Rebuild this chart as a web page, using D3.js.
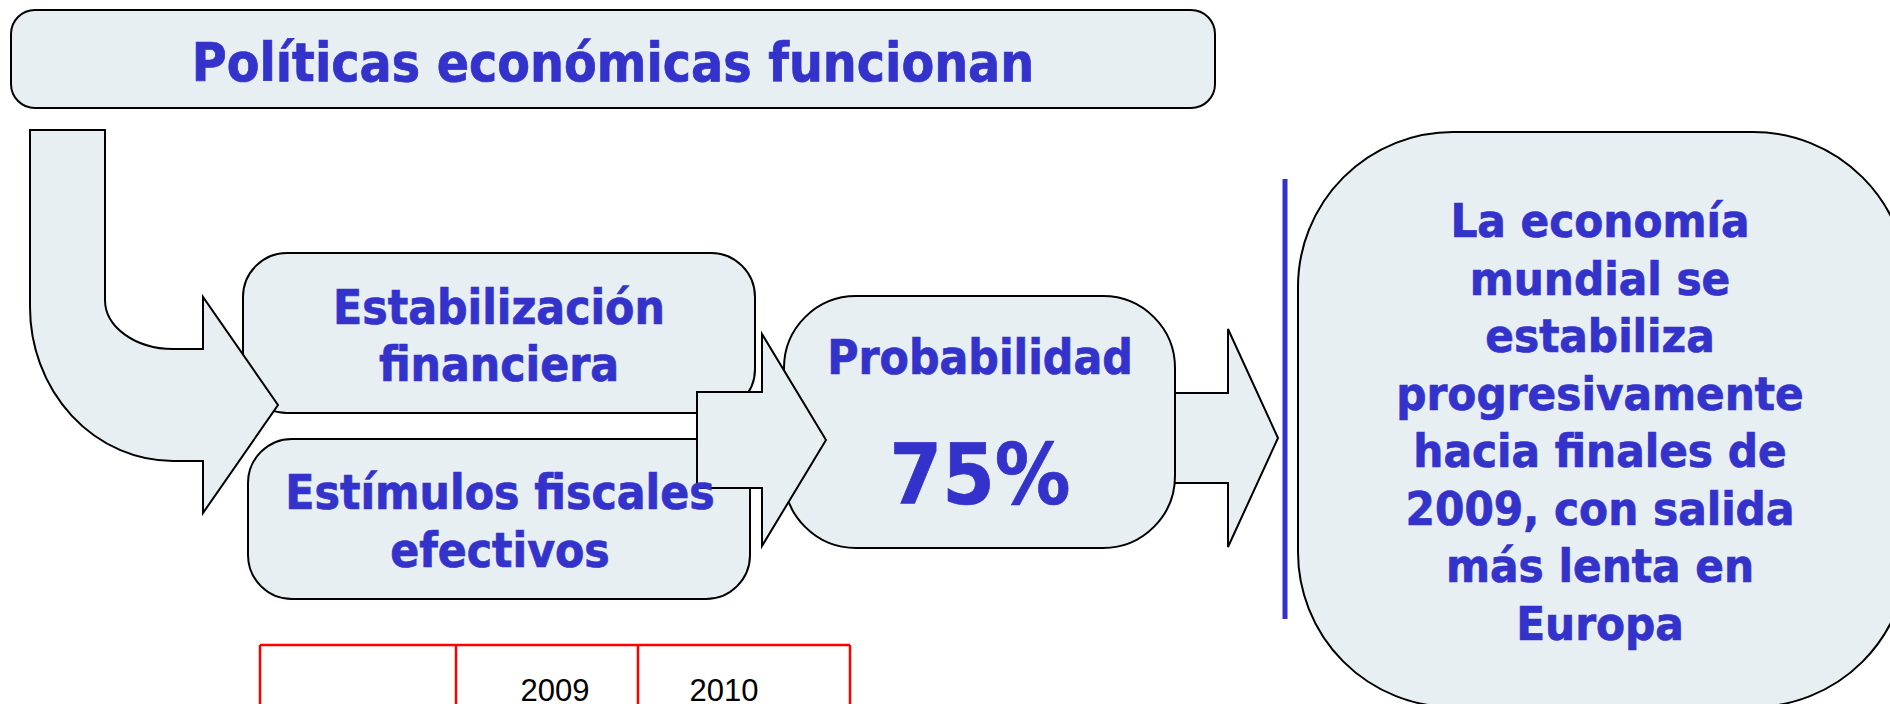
<!DOCTYPE html>
<html>
<head>
<meta charset="utf-8">
<script src="https://cdn.jsdelivr.net/npm/d3@7"></script>
<style>
  html, body { margin: 0; padding: 0; background: #fff; overflow: hidden; }
  svg { display: block; }
</style>
</head>
<body>
<script>
// Width and Height of the whole picture
var width = 1890;
var height = 704;

// texts of the diagram
var titleText = "Políticas económicas funcionan";
var driverLines = [["Estabilización", "financiera"], ["Estímulos fiscales", "efectivos"]];
var probabilityLabel = "Probabilidad";
var probabilityValue = [0.75];
var outcomeLines = ["La economía", "mundial se", "estabiliza", "progresivamente",
                    "hacia finales de", "2009, con salida", "más lenta en", "Europa"];
var tableYears = ["2009", "2010"];

var fill = "#e8eff3";
var ink = "#3333cc";
var font = "'DejaVu Sans Condensed', 'DejaVu Sans', sans-serif";

var svg = d3.select("body")
    .append("svg")
    .attr("width", width)
    .attr("height", height);

var shapes = svg.append("g")
    .attr("fill", fill)
    .attr("stroke", "#000")
    .attr("stroke-width", 2);
var labels = svg.append("g")
    .attr("fill", ink)
    .attr("stroke", ink)
    .attr("stroke-width", 0.7)
    .attr("font-family", font)
    .attr("font-weight", "bold")
    .attr("text-anchor", "middle");

function box(x, y, w, h, r) {
  shapes.append("rect")
      .attr("x", x).attr("y", y)
      .attr("width", w).attr("height", h)
      .attr("rx", r).attr("ry", r);
}

// block arrow: shaft from x0 to x1 (half height sh), head to tip (half height hh)
function arrow(x0, x1, tip, cy, sh, hh) {
  var p = d3.path();
  p.moveTo(x0, cy - sh);
  p.lineTo(x1, cy - sh);
  p.lineTo(x1, cy - hh);
  p.lineTo(tip, cy);
  p.lineTo(x1, cy + hh);
  p.lineTo(x1, cy + sh);
  p.lineTo(x0, cy + sh);
  p.closePath();
  shapes.append("path").attr("d", p.toString());
}

function lines(arr, cx, y0, step, size) {
  labels.selectAll(null)
      .data(arr)
      .enter()
      .append("text")
      .attr("x", cx)
      .attr("y", function(d, i) { return y0 + i * step; })
      .attr("font-size", size)
      .text(function(d) { return d; });
}

// title
box(11, 10, 1204, 98, 24);

// the two drivers
box(243, 253, 512, 160, 44);
box(248, 439, 502, 160, 44);

// bent arrow coming down from the title
shapes.append("path")
    .attr("d", "M30,130 L105,130 L105,300 A68,49 0 0 0 173,349 L203,349 L203,297 L278,405" +
               " L203,513 L203,461 L173,461 A143,154 0 0 1 30,307 Z");

// arrow out of the probability box, then the box, then the arrow into it
arrow(1150, 1228, 1278, 438, 45, 109);
box(784, 296, 391, 252, 72);
arrow(697, 762, 826, 440, 48, 106);

// outcome
svg.append("line")
    .attr("x1", 1285).attr("x2", 1285)
    .attr("y1", 179).attr("y2", 619)
    .attr("stroke", ink)
    .attr("stroke-width", 5);
box(1298, 132, 610, 575, 155);

// texts
lines([titleText], 613, 81, 0, 53);
lines(driverLines[0], 499, 324, 57, 47.5);
lines(driverLines[1], 500, 509, 58, 47.5);
lines([probabilityLabel], 980, 374, 0, 47.5);
lines(probabilityValue.map(d3.format(".0%")), 980, 504, 0, 84);
lines(outcomeLines, 1600, 237, 57.5, 47);

// table header cut off at the bottom
var cols = [260, 456, 638, 850];
var table = svg.append("g").attr("stroke", "#ff0000").attr("stroke-width", 2.5);
table.append("line").attr("x1", cols[0]).attr("x2", cols[3]).attr("y1", 645).attr("y2", 645);
table.selectAll(null).data(cols).enter().append("line")
    .attr("x1", function(d) { return d; }).attr("x2", function(d) { return d; })
    .attr("y1", 645).attr("y2", height + 5);
svg.selectAll(".year")
    .data(tableYears)
    .enter()
    .append("text")
    .attr("class", "year")
    .attr("x", function(d, i) { return [555, 724][i]; })
    .attr("y", 701)
    .attr("text-anchor", "middle")
    .attr("font-family", "'Liberation Sans', Arial, sans-serif")
    .attr("font-size", 31)
    .text(function(d) { return d; });
</script>
</body>
</html>
